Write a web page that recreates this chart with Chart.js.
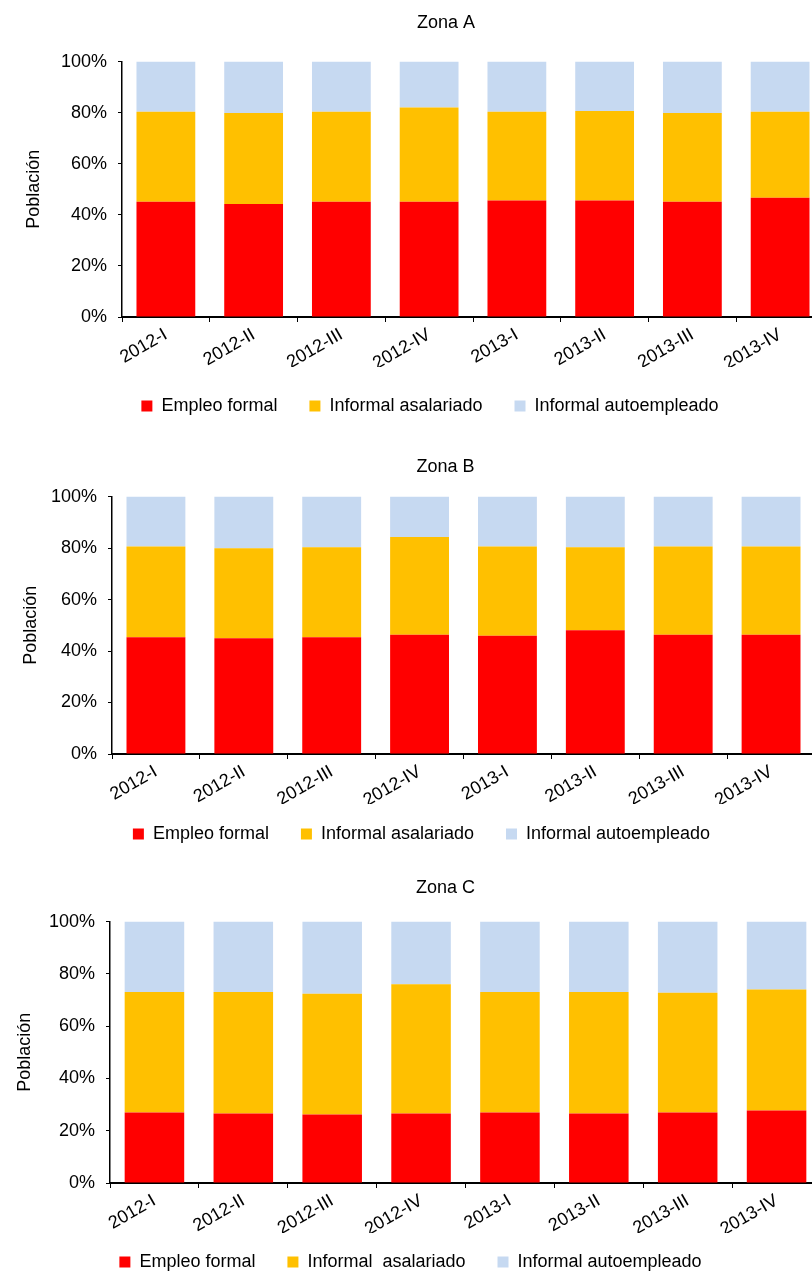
<!DOCTYPE html>
<html>
<head>
<meta charset="utf-8">
<script src="https://cdn.jsdelivr.net/npm/chart.js@4"></script>
<style>
  html, body { margin: 0; padding: 0; background: #fff; overflow: hidden; width: 812px; height: 1273px; }
  canvas { position: absolute; left: 0; }
</style>
</head>
<body>
<canvas id="zonaA" width="824" height="427" style="top:0px"></canvas>
<canvas id="zonaB" width="815" height="424" style="top:440px"></canvas>
<canvas id="zonaC" width="821" height="431" style="top:862px"></canvas>
<script>
// Trimestres
const quarters = ['2012-I', '2012-II', '2012-III', '2012-IV', '2013-I', '2013-II', '2013-III', '2013-IV'];
const yTicks = [0, 20, 40, 60, 80, 100];

// Zona A (% de la población)
const formalA     = [45.1, 44.2, 45.1, 45.1, 45.6, 45.6, 45.1, 46.7];
const asalariadoA = [35.3, 35.7, 35.3, 36.9, 34.8, 35.1, 34.8, 33.7];
const autoempA    = [19.6, 20.1, 19.6, 18.0, 19.6, 19.3, 20.1, 19.6];

// Zona B
const formalB     = [45.4, 45.0, 45.4, 46.3, 45.9, 48.1, 46.3, 46.3];
const asalariadoB = [35.2, 34.9, 34.9, 38.0, 34.7, 32.2, 34.3, 34.3];
const autoempB    = [19.4, 20.1, 19.7, 15.7, 19.4, 19.7, 19.4, 19.4];

// Zona C
const formalC     = [27.0, 26.6, 26.2, 26.6, 27.0, 26.6, 27.0, 27.7];
const asalariadoC = [46.1, 46.5, 46.2, 49.4, 46.1, 46.5, 45.8, 46.3];
const autoempC    = [26.9, 26.9, 27.6, 24.0, 26.9, 26.9, 27.2, 26.0];

const seriesNames = ['Empleo formal', 'Informal asalariado', 'Informal autoempleado'];
const seriesNamesC = ['Empleo formal', 'Informal  asalariado', 'Informal autoempleado'];
const seriesColors = ['#FF0000', '#FFC000', '#C6D9F1'];

Chart.defaults.font.family = '"Liberation Sans", Arial, sans-serif';
Chart.defaults.font.size = 18;
Chart.defaults.color = '#000';
Chart.defaults.animation = false;

// Nudges the title and legend boxes after layout
const boxShift = {
  id: 'boxShift',
  afterLayout(chart, args, opts) {
    const l = chart.legend;
    if (l) {
      l.top -= opts.legendDy; l.bottom -= opts.legendDy;
      l.left += opts.legendDx; l.right += opts.legendDx;
    }
    const t = chart.titleBlock;
    if (t) { t.left += opts.titleDx; t.right += opts.titleDx; }
  }
};

function buildChart(id, title, names, values, geo) {
  return new Chart(document.getElementById(id), {
    type: 'bar',
    data: {
      labels: quarters,
      datasets: values.map((v, i) => ({
        label: names[i],
        data: v,
        backgroundColor: seriesColors[i],
        borderWidth: 0,
        categoryPercentage: 1,
        barPercentage: 0.67
      }))
    },
    plugins: [boxShift],
    options: {
      responsive: false,
      devicePixelRatio: 1,
      layout: { padding: 0 },
      plugins: {
        boxShift: { legendDx: geo.legendDx, legendDy: geo.legendDy, titleDx: geo.titleDx },
        title: {
          display: true,
          text: title,
          color: '#000',
          font: { size: 18, weight: 'normal' },
          padding: { top: geo.titleTop, bottom: geo.titleBottom }
        },
        legend: {
          position: 'bottom',
          labels: {
            boxWidth: 11,
            boxHeight: 11,
            padding: 32,
            color: '#000',
            font: { size: 18 }
          }
        },
        tooltip: { enabled: false }
      },
      scales: {
        x: {
          stacked: true,
          afterFit: (s) => { s.height = 50; },
          border: { display: true, color: '#000', width: 2 },
          grid: { display: true, offset: true, drawOnChartArea: false, drawTicks: true, tickLength: 5, color: '#000', lineWidth: 1 },
          ticks: { minRotation: 30, maxRotation: 30, padding: 2, font: { size: 18 }, color: '#000' }
        },
        y: {
          stacked: true,
          min: 0,
          max: 100,
          afterFit: (s) => { s.width = geo.yWidth; },
          afterBuildTicks: (s) => { s.ticks = yTicks.map(v => ({ value: v })); },
          border: { display: true, color: '#000', width: 1.5 },
          grid: { display: true, drawOnChartArea: false, drawTicks: true, tickLength: 4, color: '#000', lineWidth: 1 },
          ticks: { padding: 11, font: { size: 18 }, color: '#000', callback: (v) => v + '%' },
          title: {
            display: true,
            text: 'Población',
            color: '#000',
            font: { size: 18 },
            padding: { top: geo.yTitlePad, bottom: 0 }
          }
        }
      }
    }
  });
}

buildChart('zonaA', 'Zona A', seriesNames, [formalA, asalariadoA, autoempA],
  { titleTop: 12, titleBottom: 28, yWidth: 122, yTitlePad: 23, titleDx: 34, legendDx: 18, legendDy: 2 });
buildChart('zonaB', 'Zona B', seriesNames, [formalB, asalariadoB, autoempB],
  { titleTop: 16, titleBottom: 19, yWidth: 112, yTitlePad: 20, titleDx: 38, legendDx: 14, legendDy: 11 });
buildChart('zonaC', 'Zona C', seriesNamesC, [formalC, asalariadoC, autoempC],
  { titleTop: 15, titleBottom: 23, yWidth: 110, yTitlePad: 14, titleDx: 35, legendDx: 0, legendDy: 12 });
</script>
</body>
</html>
